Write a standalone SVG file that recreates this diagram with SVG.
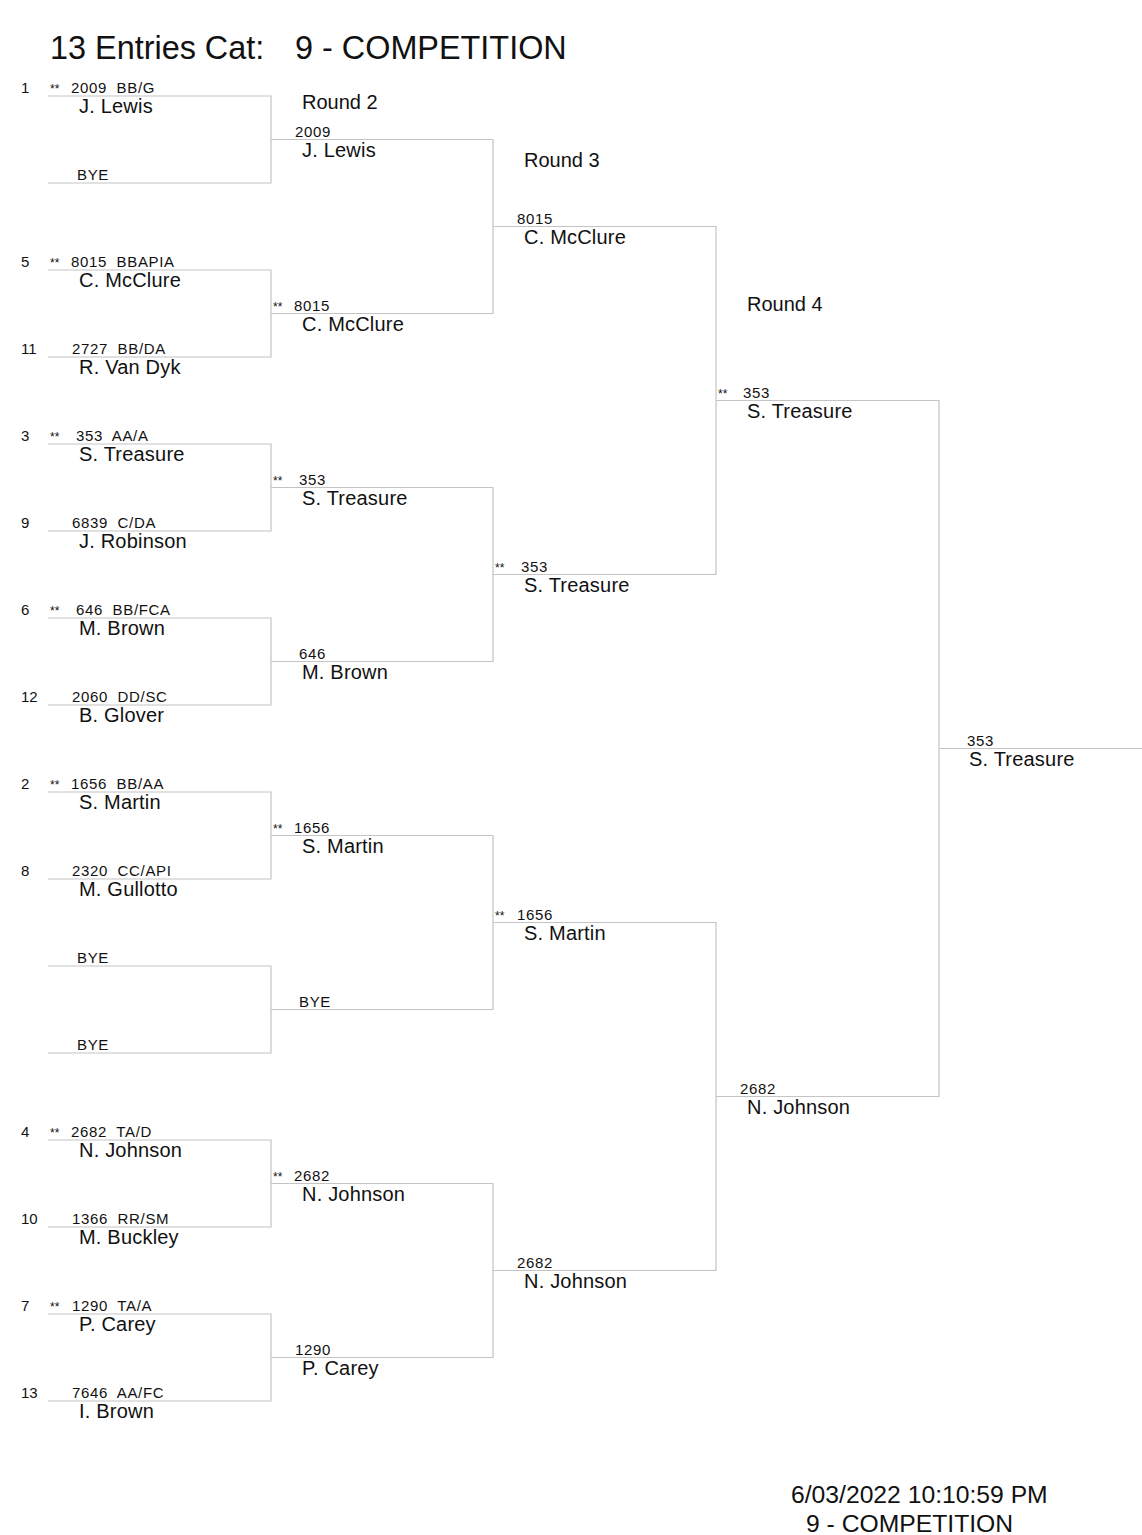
<svg xmlns="http://www.w3.org/2000/svg" width="1142" height="1535" viewBox="0 0 1142 1535">
<style>
text{font-family:"Liberation Sans",Arial,sans-serif;fill:#111}
.ln{stroke:#c4c4c4;stroke-width:1.2;fill:none}
.sd{font-size:15px}
.cd{font-size:15px;letter-spacing:0.65px}
.st{font-size:12px}
.nm{font-size:20px;letter-spacing:0.2px}
.rd{font-size:20px}
.tt{font-size:32.4px}
.ft{font-size:24.7px}
</style>
<rect width="1142" height="1535" fill="#fff"/>
<g id="title">
<text class="tt" x="50" y="59">13 Entries Cat:</text>
<text class="tt" x="295" y="59">9 - COMPETITION</text>
</g>
<g id="round-labels">
<text class="rd" x="302" y="109">Round 2</text>
<text class="rd" x="524" y="167">Round 3</text>
<text class="rd" x="747" y="311">Round 4</text>
</g>
<g id="connectors">
<path class="ln" d="M48 96H271V183H48"/>
<path class="ln" d="M48 270H271V357H48"/>
<path class="ln" d="M48 444H271V531H48"/>
<path class="ln" d="M48 618H271V705H48"/>
<path class="ln" d="M48 792H271V879H48"/>
<path class="ln" d="M48 966H271V1053H48"/>
<path class="ln" d="M48 1140H271V1227H48"/>
<path class="ln" d="M48 1314H271V1401H48"/>
<path class="ln" d="M271 139.5H493V313.5H271"/>
<path class="ln" d="M271 487.5H493V661.5H271"/>
<path class="ln" d="M271 835.5H493V1009.5H271"/>
<path class="ln" d="M271 1183.5H493V1357.5H271"/>
<path class="ln" d="M493 226.5H716V574.5H493"/>
<path class="ln" d="M493 922.5H716V1270.5H493"/>
<path class="ln" d="M716 400.5H939V1096.5H716"/>
<path class="ln" d="M939 748.5H1142"/>
</g>
<g id="r1-1"><text class="sd" x="21" y="93">1</text><text class="st" x="50" y="93">**</text><text class="cd" x="71" y="93" xml:space="preserve">2009  BB/G</text><text class="nm" x="79" y="113">J. Lewis</text></g>
<g id="r1-2"><text class="cd" x="77" y="180">BYE</text></g>
<g id="r1-3"><text class="sd" x="21" y="267">5</text><text class="st" x="50" y="267">**</text><text class="cd" x="71" y="267" xml:space="preserve">8015  BBAPIA</text><text class="nm" x="79" y="287">C. McClure</text></g>
<g id="r1-4"><text class="sd" x="21" y="354">11</text><text class="cd" x="72" y="354" xml:space="preserve">2727  BB/DA</text><text class="nm" x="79" y="374">R. Van Dyk</text></g>
<g id="r1-5"><text class="sd" x="21" y="441">3</text><text class="st" x="50" y="441">**</text><text class="cd" x="76" y="441" xml:space="preserve">353  AA/A</text><text class="nm" x="79" y="461">S. Treasure</text></g>
<g id="r1-6"><text class="sd" x="21" y="528">9</text><text class="cd" x="72" y="528" xml:space="preserve">6839  C/DA</text><text class="nm" x="79" y="548">J. Robinson</text></g>
<g id="r1-7"><text class="sd" x="21" y="615">6</text><text class="st" x="50" y="615">**</text><text class="cd" x="76" y="615" xml:space="preserve">646  BB/FCA</text><text class="nm" x="79" y="635">M. Brown</text></g>
<g id="r1-8"><text class="sd" x="21" y="702">12</text><text class="cd" x="72" y="702" xml:space="preserve">2060  DD/SC</text><text class="nm" x="79" y="722">B. Glover</text></g>
<g id="r1-9"><text class="sd" x="21" y="789">2</text><text class="st" x="50" y="789">**</text><text class="cd" x="71" y="789" xml:space="preserve">1656  BB/AA</text><text class="nm" x="79" y="809">S. Martin</text></g>
<g id="r1-10"><text class="sd" x="21" y="876">8</text><text class="cd" x="72" y="876" xml:space="preserve">2320  CC/API</text><text class="nm" x="79" y="896">M. Gullotto</text></g>
<g id="r1-11"><text class="cd" x="77" y="963">BYE</text></g>
<g id="r1-12"><text class="cd" x="77" y="1050">BYE</text></g>
<g id="r1-13"><text class="sd" x="21" y="1137">4</text><text class="st" x="50" y="1137">**</text><text class="cd" x="71" y="1137" xml:space="preserve">2682  TA/D</text><text class="nm" x="79" y="1157">N. Johnson</text></g>
<g id="r1-14"><text class="sd" x="21" y="1224">10</text><text class="cd" x="72" y="1224" xml:space="preserve">1366  RR/SM</text><text class="nm" x="79" y="1244">M. Buckley</text></g>
<g id="r1-15"><text class="sd" x="21" y="1311">7</text><text class="st" x="50" y="1311">**</text><text class="cd" x="72" y="1311" xml:space="preserve">1290  TA/A</text><text class="nm" x="79" y="1331">P. Carey</text></g>
<g id="r1-16"><text class="sd" x="21" y="1398">13</text><text class="cd" x="72" y="1398" xml:space="preserve">7646  AA/FC</text><text class="nm" x="79" y="1418">I. Brown</text></g>
<g id="r2-1"><text class="cd" x="295" y="136.5">2009</text><text class="nm" x="302" y="157">J. Lewis</text></g>
<g id="r2-2"><text class="st" x="273" y="310.5">**</text><text class="cd" x="294" y="310.5">8015</text><text class="nm" x="302" y="331">C. McClure</text></g>
<g id="r2-3"><text class="st" x="273" y="484.5">**</text><text class="cd" x="299" y="484.5">353</text><text class="nm" x="302" y="505">S. Treasure</text></g>
<g id="r2-4"><text class="cd" x="299" y="658.5">646</text><text class="nm" x="302" y="679">M. Brown</text></g>
<g id="r2-5"><text class="st" x="273" y="832.5">**</text><text class="cd" x="294" y="832.5">1656</text><text class="nm" x="302" y="853">S. Martin</text></g>
<g id="r2-6"><text class="cd" x="299" y="1006.5">BYE</text></g>
<g id="r2-7"><text class="st" x="273" y="1180.5">**</text><text class="cd" x="294" y="1180.5">2682</text><text class="nm" x="302" y="1201">N. Johnson</text></g>
<g id="r2-8"><text class="cd" x="295" y="1354.5">1290</text><text class="nm" x="302" y="1375">P. Carey</text></g>
<g id="r3-1"><text class="cd" x="517" y="223.5">8015</text><text class="nm" x="524" y="244">C. McClure</text></g>
<g id="r3-2"><text class="st" x="495" y="571.5">**</text><text class="cd" x="521" y="571.5">353</text><text class="nm" x="524" y="592">S. Treasure</text></g>
<g id="r3-3"><text class="st" x="495" y="919.5">**</text><text class="cd" x="517" y="919.5">1656</text><text class="nm" x="524" y="940">S. Martin</text></g>
<g id="r3-4"><text class="cd" x="517" y="1267.5">2682</text><text class="nm" x="524" y="1288">N. Johnson</text></g>
<g id="r4-1"><text class="st" x="718" y="397.5">**</text><text class="cd" x="743" y="397.5">353</text><text class="nm" x="747" y="418">S. Treasure</text></g>
<g id="r4-2"><text class="cd" x="740" y="1093.5">2682</text><text class="nm" x="747" y="1114">N. Johnson</text></g>
<g id="winner"><text class="cd" x="967" y="745.5">353</text><text class="nm" x="969" y="766">S. Treasure</text></g>
<g id="footer">
<text class="ft" x="791" y="1503">6/03/2022 10:10:59 PM</text>
<text class="ft" x="806" y="1532">9 - COMPETITION</text>
</g>
</svg>
